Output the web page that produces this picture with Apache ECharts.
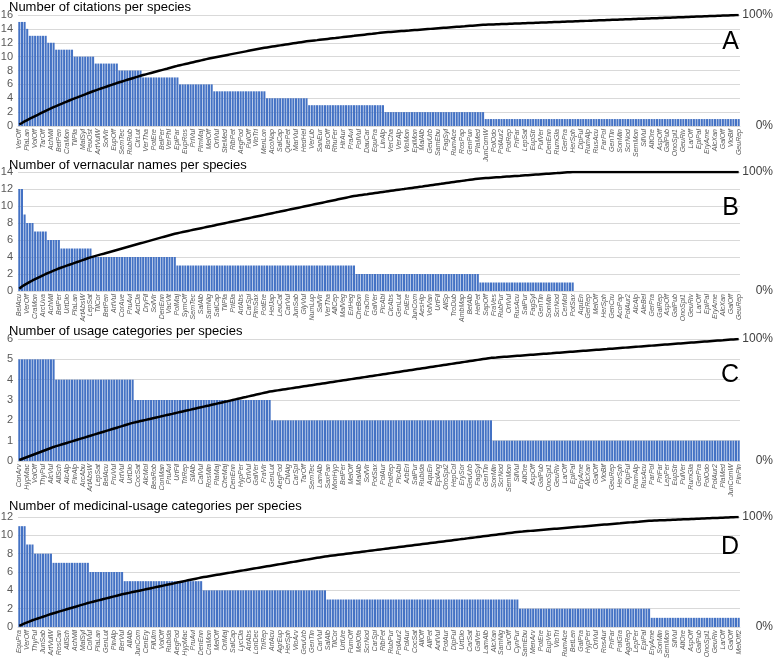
<!DOCTYPE html>
<html><head><meta charset="utf-8">
<script src="https://cdn.jsdelivr.net/npm/echarts@6/dist/echarts.min.js"></script>
<style>html,body{margin:0;padding:0;background:#fff}#c{width:778px;height:661px}</style>
</head><body><div id="c"></div>
<script>
// Panel A: number of citations per species (value levels and number of species at each level)
const levelsA = [15,14,13,12,11,10,9,8,7,6,5,4,3,2,1];
const countsA = [3,1,7,3,7,8,9,9,14,13,20,16,29,38,97];
// Panel B: number of vernacular names per species
const levelsB = [12,9,8,7,6,5,4,3,2,1,0];
const countsB = [2,1,3,5,5,12,32,68,47,36,63];
// Panel C: number of usage categories per species
const levelsC = [5,4,3,2,1];
const countsC = [14,30,52,84,94];
// Panel D: number of medicinal-usage categories per species
const levelsD = [11,9,8,7,6,5,4,3,2,1];
const countsD = [3,3,7,14,13,30,47,73,50,34];

// Visible species labels (every third species)
const labelsA = ["VerOff","PlaLan","VolOff","TarOff","AchMil","BetPen","CraMon","TilPla","MalSyl","PeuOst","ArtVulW","SolVir","EupOff","SemTec","RubRub","CirLut","VerTha","PotEre","BelPer","VerPhl","EpiPar","EupRos","PriVul","PimMaj","MelOff","OriVul","SteMed","RibPet","AegPod","PulOff","VioTri","MenLon","AcoNap","SalCap","QuePet","MarVul","HedHel","VerLib","SanEur","BorOff","RhuFer","HirAur","PraAvi","PolVul","DauCar","EquPra","LinAlp","VerCha","VerAlp","VioMon","EpiMon","MalAlb","GeuUrb","SamEbu","FagSyl","RumAce","RosPap","GenPun","PlaMed","JunComW","PolOdo","PolAur2","PotRep","PriFar","LepSat","EupStr","PulVer","DenEnn","RumGla","GerPra","HerSph","DipFul","RumAlp","RusAcu","ParPol","GenTin","SonMin","ScrNod","SemMon","SilVul","AltOre","AspOff","GalPub","OnoSpi1","GeuRiv","LarOff","EpiPal","EryAme","AlcXan","GalOff","VioBif","GeuRep"];
const labelsB = ["BelAcu","VerOff","CraMon","ArcUva","AchMil","BelPer","UrtDio","PlaLan","ArtAbsW","LepSat","TilCor","BetPen","ArtVul","CorAve","PruAvi","ActCla","DryFil","SolVir","DenEnn","VacVit","PolMaj","SymOff","SemTec","SalAlb","SamNig","SalCap","TilPla","PriEla","ArtAbs","CarSpi","PimSax","PotEre","HelJap","LeuCat","CarVul","JunSab","GlyVul","NumLup","SalVir","VerTha","AllCep","MalVeg","EriHeg","CheBon","FraOrn","GalVer","PicAbi","CicAbs","GenLut","PolEre","JunCom","AesHip","VolVan","UrtFil","AllSp","TroDub","AmbMap","BetAlb","HelPet","SapOff","FraVes","RubPur","OriVul","RusAcu","SalPur","FagSyl","GenTin","SonMin","ScrNod","CerMol","PotSax","AquEn","GerRep","MelOff","HerSph","GenCru","AcoPap","PolAur2","AlcAlp","AleBel","GerPra","GalRep","AspOff","GalPub","OnoSpi1","GeuRiv","LarOff","EpiPal","EryAme","AlcXan","GalOff","GeuRep"];
const labelsC = ["ConArv","HypMac","VolOff","ThyPul","AlcVul","AllSch","AlcAlp","PinAlp","ArcAbu","ArtAbsW","LepSat","BelAcu","PruVul","ArtVul","UrtDio","CocSat","AlcMol","BeaRob","ConMan","PruAvi","UrtFil","TriRep","SilAlb","CalVul","RosMin","PlaMaj","CheMaj","DenEnn","HypPer","OriVul","GalVer","FraVir","GenLut","AegPod","ChlAig","CarSpi","TarOff","SemTec","LamAlb","SaxPan","MonHyp","BelPer","MelOff","MalAlb","SolVir","PotSax","PolAur","PotRep","PicAbi","ArbEri","SalPur","RubIda","AquEn","EpiAng","OroSpi2","HepCol","ErySor","GeuUrb","FagSyl","GenTin","SonMin","ScrNod","SemMon","SilVul","AltOre","AspOff","GalPub","OnoSpi1","GeuRiv","LarOff","EpiPal","EryAme","AlcXan","GalOff","VioBif","GeuRep","HerSph","DipFul","RumAlp","RusAcu","ParPol","PriFar","LepPer","EupStr","PulVer","RumGla","GerPra","PolOdo","PolAur2","PlaMed","JunComW","PinPin"];
const labelsD = ["EquPra","VerOff","ThyPul","JunSab","ArtVulW","RosCan","AllSch","AchMil","MalSyl","ColVul","PlaLan","GenLut","PinAlp","BerVul","AllAlb","JunCom","CenEry","FilUlm","VolOff","RubIda","AegPod","HypMac","PruAvi","DenEnn","CraMon","MelOff","OriMaj","SalCap","LycCla","ArtAbs","LonDec","TriRep","ArtAcu","AgrEup","HerSph","VioArv","GeuUrb","GenTin","CarVul","SalAlb","TilCor","UrtUre","FumOff","MelOfa","ScrNod","CarSpi","RibPet","RubPur","PolAur2","PolAur","CocSat","AllOff","AllPet","AntVul","PotAur","DipFul","UrtDio","CarSat","GalVer","LamAlb","AlcXan","SamNig","CarOff","CynPur","SamEbu","MenArv","PotEre","EupVer","VioTri","RumAce","BetLen","GalPra","HypPer","OriVul","RosAur","PriFar","PotGra","AgaRep","LepPer","EpiPal","EryAme","SonMin","SemMon","SilVul","AltOre","AspOff","GalPub","OnoSpi1","GeuRiv","LarOff","GalOff","MelOff2"];

function expand(levels, counts) {
  const out = [];
  levels.forEach((v, i) => { for (let k = 0; k < counts[i]; k++) out.push(v); });
  return out;
}
function cumulative(vals) {
  const total = vals.reduce((a, b) => a + b, 0);
  let s = 0;
  return vals.map(v => { s += v; return +(s / total * 100).toFixed(3); });
}
function cats(labels, n) {
  const out = [];
  for (let i = 0; i < n; i++) out.push(i % 3 === 0 ? (labels[i / 3] || '') : '');
  return out;
}

const panels = [
  { title: 'Number of citations per species', letter: 'A', top: 15, height: 111, max: 16, interval: 2, titleTop: 1, letterTop: 30, levels: levelsA, counts: countsA, labels: labelsA },
  { title: 'Number of vernacular names per species', letter: 'B', top: 172, height: 119, max: 14, interval: 2, titleTop: 159, letterTop: 196, levels: levelsB, counts: countsB, labels: labelsB },
  { title: 'Number of usage categories per species', letter: 'C', top: 339, height: 122, max: 6, interval: 1, titleTop: 325, letterTop: 363, levels: levelsC, counts: countsC, labels: labelsC },
  { title: 'Number of medicinal-usage categories per species', letter: 'D', top: 517, height: 110, max: 12, interval: 2, titleTop: 500, letterTop: 535, levels: levelsD, counts: countsD, labels: labelsD }
];

const FONT = 'Liberation Sans';
const option = { animation: false, backgroundColor: '#fff', title: [], grid: [], xAxis: [], yAxis: [], series: [] };

panels.forEach((p, k) => {
  const vals = expand(p.levels, p.counts);
  const cum = cumulative(vals);
  option.title.push({ text: p.title, left: 9, top: p.titleTop, padding: 0,
    textStyle: { fontFamily: FONT, fontSize: 13, fontWeight: 'normal', color: '#000' } });
  option.title.push({ text: p.letter, right: 39, top: p.letterTop, padding: 0,
    textStyle: { fontFamily: FONT, fontSize: 25, fontWeight: 'normal', color: '#000' } });
  option.grid.push({ left: 18, right: 38, top: p.top, height: p.height, outerBoundsMode: 'none', containLabel: false });
  option.xAxis.push({
    type: 'category', gridIndex: k, data: cats(p.labels, vals.length),
    axisLine: { show: true, lineStyle: { color: '#D9D9D9', width: 1 } },
    axisTick: { show: false },
    axisLabel: { interval: 2, rotate: 90, fontSize: 7, fontStyle: 'italic', color: '#595959', fontFamily: FONT, margin: 3 },
    splitLine: { show: false }
  });
  option.yAxis.push({
    type: 'value', gridIndex: k, min: 0, max: p.max, interval: p.interval,
    axisLine: { show: false }, axisTick: { show: false },
    axisLabel: { fontSize: 11, color: '#595959', fontFamily: FONT, margin: 5 },
    splitLine: { lineStyle: { color: '#D9D9D9', width: 1 } }
  });
  option.yAxis.push({
    type: 'value', gridIndex: k, position: 'right', min: 0, max: 100, interval: 100,
    axisLine: { show: false }, axisTick: { show: false }, splitLine: { show: false },
    axisLabel: { fontSize: 12, color: '#404040', fontFamily: FONT, align: 'right', margin: 33, formatter: '{value}%' }
  });
  option.series.push({
    type: 'bar', xAxisIndex: k, yAxisIndex: 2 * k, data: vals,
    barCategoryGap: '22%', itemStyle: { color: '#4472C4' }, silent: true
  });
  option.series.push({
    type: 'line', xAxisIndex: k, yAxisIndex: 2 * k + 1, data: cum,
    showSymbol: false, symbol: 'none', lineStyle: { color: '#000', width: 2.5 }, silent: true
  });
});

const chart = echarts.init(document.getElementById('c'), null, { renderer: 'canvas' });
chart.setOption(option);
</script></body></html>
